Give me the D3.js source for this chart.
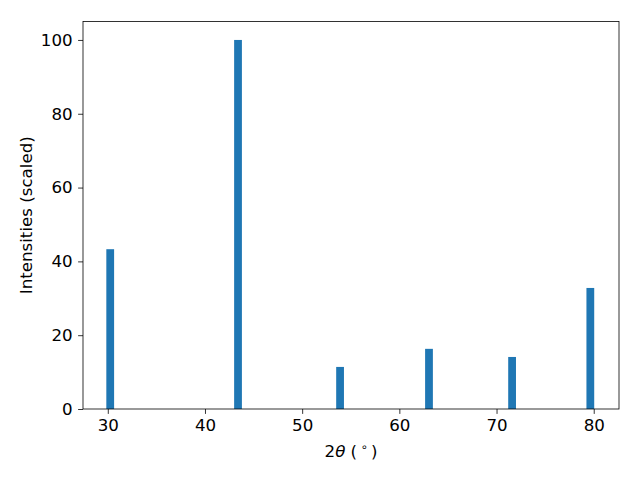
<!DOCTYPE html>
<html><head><meta charset="utf-8">
<script src="https://cdn.jsdelivr.net/npm/d3@7"></script>
<style>body{margin:0;background:#fff}text{font-family:"DejaVu Sans",sans-serif}</style>
</head><body><svg id="c" width="640" height="480"></svg>
<script>
const peaks = [30.25, 43.4, 53.9, 63.05, 71.6, 79.65];
const intensities = [43.3, 100, 11.4, 16.3, 14.1, 32.8];
const xTicks = [30, 40, 50, 60, 70, 80];
const yTicks = [0, 20, 40, 60, 80, 100];
const barWidth = 0.8;

const svg = d3.select("#c");
const L = 83, R = 619, T = 21.5, B = 409;
const FS = "16.67px";
const x = d3.scaleLinear().domain([27.45, 82.6]).range([L, R]);
const y = d3.scaleLinear().domain([0, 105]).range([B, T]);

svg.append("rect").attr("width",640).attr("height",480).attr("fill","#fff");

svg.selectAll("rect.bar").data(peaks).enter().append("rect")
  .attr("class","bar")
  .attr("x", (d)=>x(d - barWidth/2))
  .attr("width", (d)=>x(d + barWidth/2) - x(d - barWidth/2))
  .attr("y", (d,i)=>y(intensities[i]))
  .attr("height", (d,i)=>y(0) - y(intensities[i]))
  .attr("fill", "#1f77b4");

const xa = svg.append("g").attr("transform",`translate(0,${B})`)
  .call(d3.axisBottom(x).tickValues(xTicks).tickSize(4.9).tickPadding(5.5));
const ya = svg.append("g").attr("transform",`translate(${L},0)`)
  .call(d3.axisLeft(y).tickValues(yTicks).tickSize(4.9).tickPadding(5.5));
[xa, ya].forEach(a=>{
  a.select(".domain").remove();
  a.selectAll("line").attr("stroke","#000").attr("stroke-width",0.8);
  a.selectAll("text").attr("font-size",FS).attr("fill","#000").attr("font-family","DejaVu Sans");
});

svg.append("rect").attr("x",L).attr("y",T).attr("width",R-L).attr("height",B-T)
  .attr("fill","none").attr("stroke","#000").attr("stroke-width",0.8);

const xl = svg.append("text").attr("x",(L+R)/2).attr("y",456.5).attr("text-anchor","middle")
  .attr("font-size",FS).attr("fill","#000");
xl.append("tspan").text("2");
xl.append("tspan").attr("font-style","italic").text("θ");
xl.append("tspan").text(" (\u2009");
xl.append("tspan").attr("font-size","11.5px").attr("dy","-6").text("∘");
xl.append("tspan").attr("dy","6").text("\u2009)");

svg.append("text").attr("transform",`translate(32,${(T+B)/2}) rotate(-90)`)
  .attr("text-anchor","middle").attr("font-size",FS).attr("fill","#000")
  .text("Intensities (scaled)");
</script></body></html>
